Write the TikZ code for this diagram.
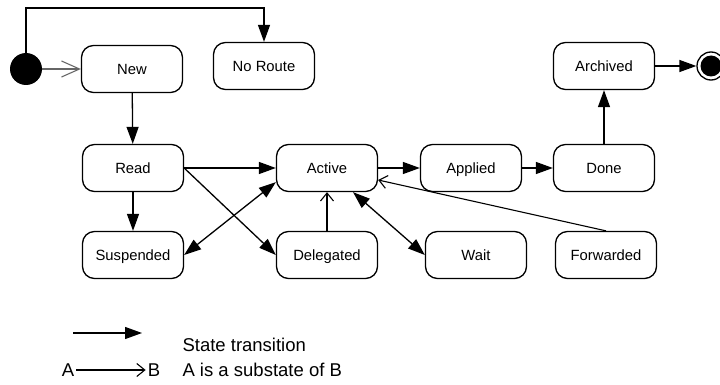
\documentclass[tikz,border=0pt]{standalone}
\usepackage{fontspec}
\setmainfont{Liberation Sans}
\usetikzlibrary{arrows.meta}

\newcommand{\nodefont}[0]{%
      \fontsize{14.8}{17}\selectfont
    }
\newcommand{\legendfont}[0]{%
      \fontsize{18.5}{21}\selectfont
    }

\begin{document}
\begin{tikzpicture}[x=1pt,y=-1pt,
    state/.style={shape=rectangle,draw=black,line width=1.3pt,rounded corners=12pt,minimum width=101pt,minimum height=47pt,text height=10.6pt,text depth=0pt,font=\nodefont},
    trans/.style={line width=1.3pt,-{Triangle[length=17pt,width=12pt]}},
    both/.style={line width=1.3pt,{Triangle[length=17pt,width=12pt]}-{Triangle[length=17pt,width=12pt]}},
    sub/.style={line width=1.1pt,-{Straight Barb[length=8pt,width=13pt]}}]
      \useasboundingbox (0,0) rectangle (720,385);

      \node[circle,fill=black,minimum size=32pt,inner sep=0pt] (Init) at (26,69) {};
      \node[circle,draw=black,line width=1.3pt,minimum size=28pt,inner sep=0pt] (Final) at (711,66) {};
      \node[circle,fill=black,minimum size=21pt,inner sep=0pt] at (Final) {};

      \node[state] (New) at (132,69) {New};
      \node[state] (NoRoute) at (264,66) {No Route};
      \node[state] (Archived) at (604,66) {Archived};

      \node[state] (Read) at (133,168) {Read};
      \node[state] (Active) at (327,168) {Active};
      \node[state] (Applied) at (471,168) {Applied};
      \node[state] (Done) at (604,168) {Done};

      \node[state] (Suspended) at (133,255) {Suspended};
      \node[state] (Delegated) at (327,255) {Delegated};
      \node[state] (Wait) at (476,255) {Wait};
      \node[state] (Forwarded) at (606,255) {Forwarded};

      \coordinate (Bend) at (0,8);

      \draw[trans] (Init.north) |- (NoRoute.north |- Bend) -- (NoRoute.north);
      \draw[line width=1.1pt,draw=black!60,-{Straight Barb[length=18pt,width=16pt]}] (Init) -- (New);

      \draw[trans] (New) -- (Read);
      \draw[trans] (Read) -- (Suspended);
      \draw[trans] (Read) -- (Active);
      \draw[trans] (Read.east) -- (Delegated.west);
      \draw[both] (Suspended.east) -- ([yshift=10pt]Active.south west);
      \draw[both] ([xshift=26pt]Active.south) -- (Wait.west);
      \draw[sub] (Delegated) -- (Active);
      \draw[sub] (Forwarded.north) -- ([yshift=-12pt]Active.east);

      \draw[trans] (Active) -- (Applied);
      \draw[trans] (Applied) -- (Done);
      \draw[trans] (Done) -- (Archived);
      \draw[trans] (Archived) -- (Final);

      % legend
      \coordinate (LegS) at (73,333);
      \coordinate (LegE) at (142,333);
      \draw[trans] (LegS) -- (LegE);
      \node[anchor=west,font=\legendfont] (TransText) at (179,345) {State transition};

      \node[font=\legendfont,inner sep=2pt] (LA) at (68,370) {A};
      \node[font=\legendfont,inner sep=2pt] (LB) at (154,370) {B};
      \draw[sub] (LA) -- (LB);
      \node[anchor=west,font=\legendfont] (SubText) at (179,370) {A is a substate of B};
\end{tikzpicture}
\end{document}
